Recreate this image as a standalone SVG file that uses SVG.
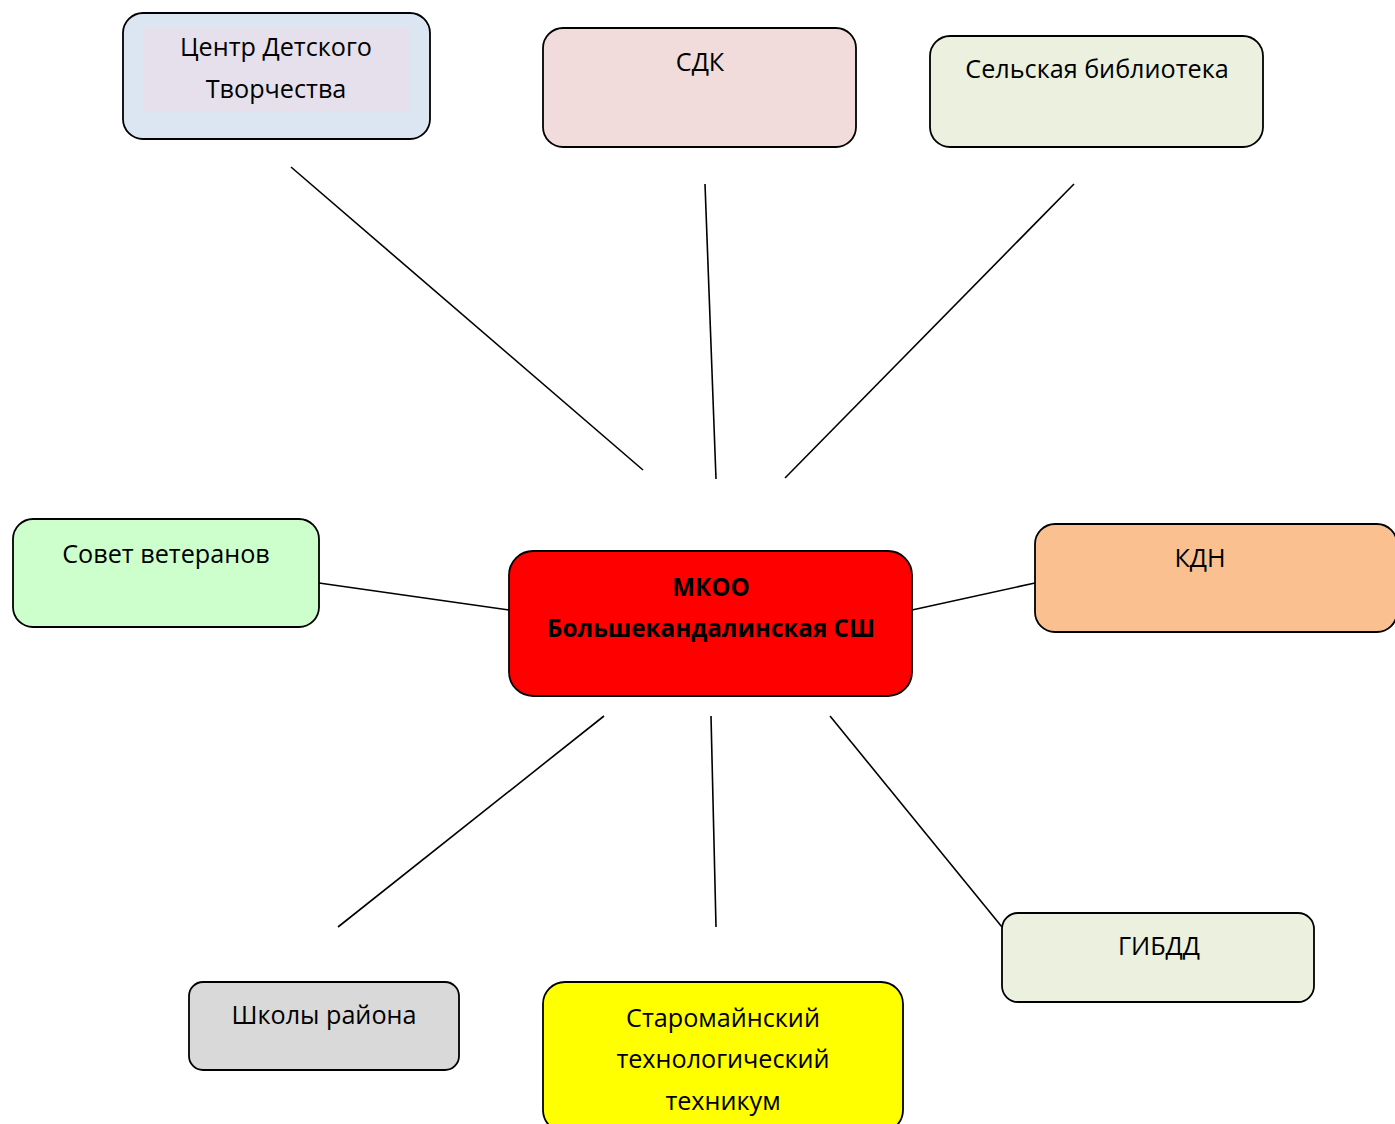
<svg xmlns="http://www.w3.org/2000/svg" width="1395" height="1124" viewBox="0 0 1395 1124">
<style>
.box{stroke:#000;stroke-width:1.8}
.t{font-family:"Open Sans","Noto Sans","Liberation Sans",sans-serif;font-size:25.2px;fill:#000;text-anchor:middle}
.b{font-weight:bold;font-size:24.2px}
.c line{stroke:#000;stroke-width:1.6}
</style>
<rect width="1395" height="1124" fill="#fff"/>
<g class="c" id="connectors">
<line x1="291" y1="167" x2="643" y2="470"/>
<line x1="705" y1="184" x2="716" y2="479"/>
<line x1="1074" y1="184" x2="785" y2="478"/>
<line x1="319" y1="583" x2="509" y2="610"/>
<line x1="912" y1="610" x2="1035" y2="583"/>
<line x1="604" y1="716" x2="338" y2="927"/>
<line x1="711" y1="716" x2="716" y2="927"/>
<line x1="830" y1="716" x2="1002" y2="927"/>
</g>
<g id="cdt">
<rect class="box" x="123" y="13" width="307" height="126" rx="20" fill="#dce6f2"/>
<rect x="143" y="28" width="267" height="83" fill="#e6e0ec"/>
<text class="t" x="276" y="56">Центр Детского</text>
<text class="t" x="276" y="98">Творчества</text>
</g>
<g id="sdk">
<rect class="box" x="543" y="28" width="313" height="119" rx="20" fill="#f2dcdb"/>
<text class="t" x="700" y="71">СДК</text>
</g>
<g id="lib">
<rect class="box" x="930" y="36" width="333" height="111" rx="20" fill="#ebf1de"/>
<text class="t" x="1097" y="78">Сельская библиотека</text>
</g>
<g id="vet">
<rect class="box" x="13" y="519" width="306" height="108" rx="20" fill="#ccffcc"/>
<text class="t" x="166" y="563">Совет ветеранов</text>
</g>
<g id="center">
<rect class="box" x="509" y="551" width="403" height="145" rx="24" fill="#ff0000"/>
<text class="t b" x="711" y="596">МКОО</text>
<text class="t b" x="711" y="637">Большекандалинская СШ</text>
</g>
<g id="kdn">
<rect class="box" x="1035" y="524" width="362" height="108" rx="20" fill="#fac090"/>
<text class="t" x="1200" y="567">КДН</text>
</g>
<g id="gibdd">
<rect class="box" x="1002" y="913" width="312" height="89" rx="16" fill="#ebf1de"/>
<text class="t" x="1159" y="955">ГИБДД</text>
</g>
<g id="schools">
<rect class="box" x="189" y="982" width="270" height="88" rx="14" fill="#d9d9d9"/>
<text class="t" x="324" y="1024">Школы района</text>
</g>
<g id="tech">
<rect class="box" x="543" y="982" width="360" height="150" rx="22" fill="#ffff00"/>
<text class="t" x="723" y="1027">Старомайнский</text>
<text class="t" x="723" y="1068">технологический</text>
<text class="t" x="723" y="1110">техникум</text>
</g>
</svg>
